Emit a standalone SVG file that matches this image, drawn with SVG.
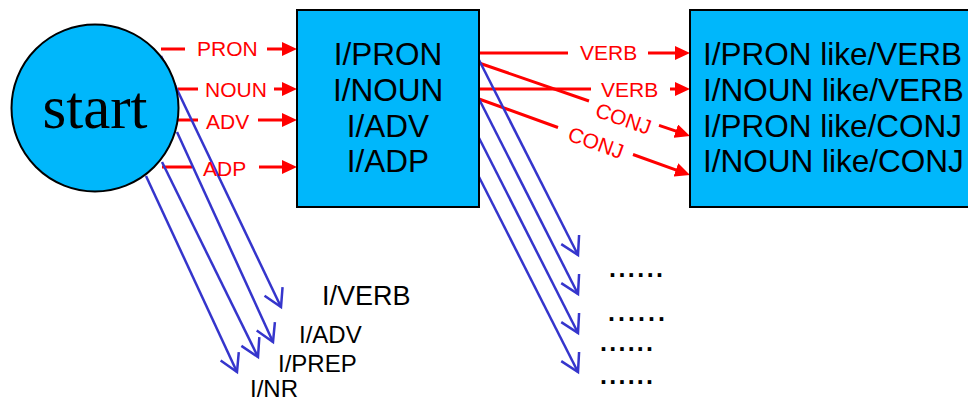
<svg xmlns="http://www.w3.org/2000/svg" width="968" height="401" viewBox="0 0 968 401">
  <style>
    .node { fill: #00b7fb; stroke: #000; stroke-width: 2; }
    .big { font-family: "Liberation Sans", Arial, sans-serif; font-size: 31.5px; fill: #000; }
    .lbl { font-family: "Liberation Sans", Arial, sans-serif; font-size: 21px; fill: #ff0000; }
    .out { font-family: "Liberation Sans", Arial, sans-serif; font-size: 24px; fill: #000; }
    .out-lg { font-size: 27px; }
    .dots { font-family: "Liberation Sans", Arial, sans-serif; font-size: 25px; font-weight: bold; fill: #000; }
    .red { stroke: #ff0000; stroke-width: 3; fill: none; }
    .blue { stroke: #3535cc; stroke-width: 2.5; fill: none; }
  </style>
  <defs>
    <marker id="redHead" markerUnits="userSpaceOnUse" viewBox="0 0 15 14" markerWidth="15" markerHeight="14" refX="5" refY="7" orient="auto">
      <path d="M0,0 L15,7 L0,14 z" fill="#ff0000"/>
    </marker>
    <marker id="blueHead" markerUnits="userSpaceOnUse" viewBox="-20 -12 22 24" markerWidth="22" markerHeight="24" refX="0" refY="0" orient="auto" overflow="visible">
      <path d="M-17.3,-10 L0,0 L-17.3,10" fill="none" stroke="#3535cc" stroke-width="2.5" stroke-linejoin="miter"/>
    </marker>
  </defs>

  <rect width="968" height="401" fill="#fff"/>

  <!-- connectors -->
  <g id="connectors">
    <!-- start -> first-word states -->
    <path class="red" d="M161,49 H185 M267,49 H287" marker-end="url(#redHead)"/>
    <path class="red" d="M178,89 H198 M274,89 H287" marker-end="url(#redHead)"/>
    <path class="red" d="M177,120 H198 M258,120 H287" marker-end="url(#redHead)"/>
    <path class="red" d="M162,167 H192 M259,167 H287" marker-end="url(#redHead)"/>
    <!-- first-word states -> two-word states -->
    <path class="red" d="M479,53 H568 M648,53 H680" marker-end="url(#redHead)"/>
    <path class="red" d="M479,89 H591 M670,89 H680" marker-end="url(#redHead)"/>
    <path class="red" d="M479,63 L589,101 M659,125.3 L680.5,132.7" marker-end="url(#redHead)"/>
    <path class="red" d="M479,99 L558,127.5 M633,154.5 L680.6,171.6" marker-end="url(#redHead)"/>

    <!-- pruned branches from start -->
    <line class="blue" x1="161" y1="56" x2="281" y2="307" marker-end="url(#blueHead)"/>
    <line class="blue" x1="177" y1="132" x2="273" y2="342" marker-end="url(#blueHead)"/>
    <line class="blue" x1="162" y1="162" x2="258" y2="357" marker-end="url(#blueHead)"/>
    <line class="blue" x1="146" y1="176" x2="237" y2="372" marker-end="url(#blueHead)"/>
    <!-- pruned branches from first-word states -->
    <line class="blue" x1="479" y1="60" x2="578" y2="255" marker-end="url(#blueHead)"/>
    <line class="blue" x1="479" y1="99" x2="578" y2="294" marker-end="url(#blueHead)"/>
    <line class="blue" x1="479" y1="138" x2="578" y2="333" marker-end="url(#blueHead)"/>
    <line class="blue" x1="479" y1="177" x2="578" y2="372" marker-end="url(#blueHead)"/>

    <!-- edge labels -->
    <text class="lbl" x="197" y="56">PRON</text>
    <text class="lbl" x="205" y="97">NOUN</text>
    <text class="lbl" x="206" y="129">ADV</text>
    <text class="lbl" x="203" y="176">ADP</text>
    <text class="lbl" x="580" y="60">VERB</text>
    <text class="lbl" x="601" y="96.5">VERB</text>
    <text class="lbl" text-anchor="middle" transform="translate(623.5,118.5) rotate(19.1)" y="7.5">CONJ</text>
    <text class="lbl" text-anchor="middle" transform="translate(596,142.5) rotate(19.8)" y="7.5">CONJ</text>
  </g>

  <!-- start state -->
  <g id="start">
    <circle class="node" cx="95" cy="108" r="83.5"/>
    <text x="95" y="128" text-anchor="middle" font-family="'Liberation Serif', 'Times New Roman', serif" font-size="61" fill="#000">start</text>
  </g>

  <!-- states after the first word -->
  <g id="state-1">
    <rect class="node" x="297" y="10" width="182" height="197"/>
    <text class="big" text-anchor="middle" x="388" y="65">I/PRON</text>
    <text class="big" text-anchor="middle" x="388" y="101">I/NOUN</text>
    <text class="big" text-anchor="middle" x="388" y="137">I/ADV</text>
    <text class="big" text-anchor="middle" x="388" y="172">I/ADP</text>
  </g>

  <!-- states after the second word -->
  <g id="state-2">
    <rect class="node" x="690" y="10" width="300" height="197"/>
    <text class="big" x="703" y="65">I/PRON like/VERB</text>
    <text class="big" x="703" y="101">I/NOUN like/VERB</text>
    <text class="big" x="703" y="137">I/PRON like/CONJ</text>
    <text class="big" x="703" y="172">I/NOUN like/CONJ</text>
  </g>

  <!-- pruned hypotheses -->
  <g id="pruned-start">
    <text class="out out-lg" x="322" y="305">I/VERB</text>
    <text class="out" x="299" y="343">I/ADV</text>
    <text class="out" x="278" y="372">I/PREP</text>
    <text class="out" x="250" y="397">I/NR</text>
  </g>
  <g id="pruned-state-1">
    <text class="dots" x="609" y="277" textLength="54" lengthAdjust="spacing">......</text>
    <text class="dots" x="608" y="321" textLength="57" lengthAdjust="spacing">......</text>
    <text class="dots" x="600" y="351" textLength="53" lengthAdjust="spacing">......</text>
    <text class="dots" x="600" y="384" textLength="53" lengthAdjust="spacing">......</text>
  </g>
</svg>
